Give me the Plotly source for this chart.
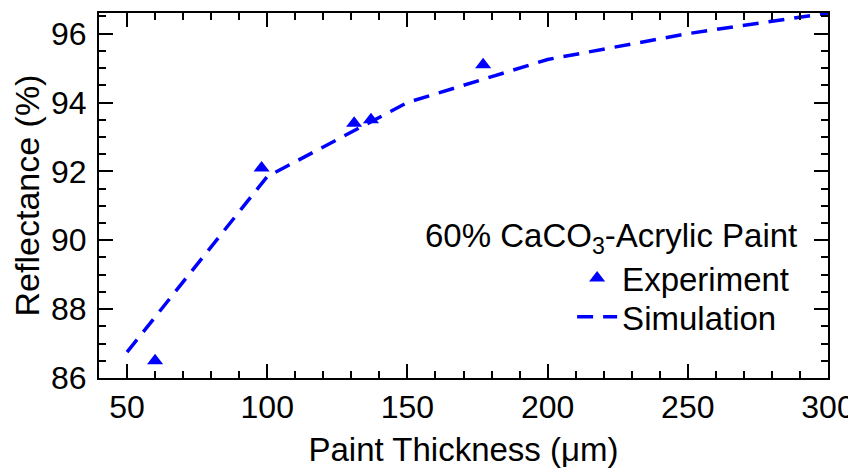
import plotly.graph_objects as go

exp_x = [60, 98, 131, 137, 177]
exp_y = [86.5, 92.1, 93.4, 93.5, 95.1]
sim_x = [50, 100, 150, 200, 250, 300]
sim_y = [86.75, 91.85, 94.0, 95.25, 96.0, 96.6]

FONT = "Liberation Sans, Arial, Helvetica, sans-serif"
BLUE = "#0000FF"

fig = go.Figure()
fig.add_trace(go.Scatter(x=exp_x, y=exp_y, mode="markers", name="Experiment", legend="legend",
                         marker=dict(symbol="triangle-up", size=14, color=BLUE)))
fig.add_trace(go.Scatter(x=sim_x, y=sim_y, mode="lines", name="Simulation", legend="legend2",
                         line=dict(color=BLUE, width=3.5, dash="16px,10px")))

axis_common = dict(showline=True, linecolor="black", linewidth=2, mirror="allticks",
                   ticks="inside", ticklen=14, tickwidth=2, tickcolor="black",
                   showgrid=False, zeroline=False, automargin=False,
                   tickfont=dict(family=FONT, size=32, color="black"))

fig.update_xaxes(range=[40, 300], tick0=50, dtick=50,
                 minor=dict(dtick=10, tick0=0, ticks="inside", ticklen=7, tickwidth=2, tickcolor="black"),
                 title=dict(text="Paint Thickness (μm)", font=dict(family=FONT, size=33, color="black")),
                 **axis_common)
fig.update_yaxes(range=[86, 96.6], tick0=86, dtick=2,
                 minor=dict(dtick=0.5, tick0=86, ticks="inside", ticklen=7, tickwidth=2, tickcolor="black"),
                 title=dict(text="Reflectance (%)", font=dict(family=FONT, size=34, color="black")),
                 ticklabelstandoff=4,
                 **axis_common)

fig.add_annotation(text="60% CaCO<sub>3</sub>-Acrylic Paint", xref="paper", yref="paper",
                   x=0.96, y=0.3836, xanchor="right", yanchor="middle", showarrow=False,
                   font=dict(family=FONT, size=33, color="black"))

leg_common = dict(xanchor="left", yanchor="middle", bgcolor="rgba(0,0,0,0)",
                  font=dict(family=FONT, size=33, color="black"), itemwidth=40)

fig.update_layout(
    width=848, height=460,
    margin=dict(l=91, r=28, t=5, b=90),
    paper_bgcolor="white", plot_bgcolor="white",
    font=dict(family=FONT, size=33, color="black"),
    showlegend=True,
    legend=dict(x=0.649, y=0.274, **leg_common),
    legend2=dict(x=0.649, y=0.168, **leg_common),
)

fig.write_html("out.html")
